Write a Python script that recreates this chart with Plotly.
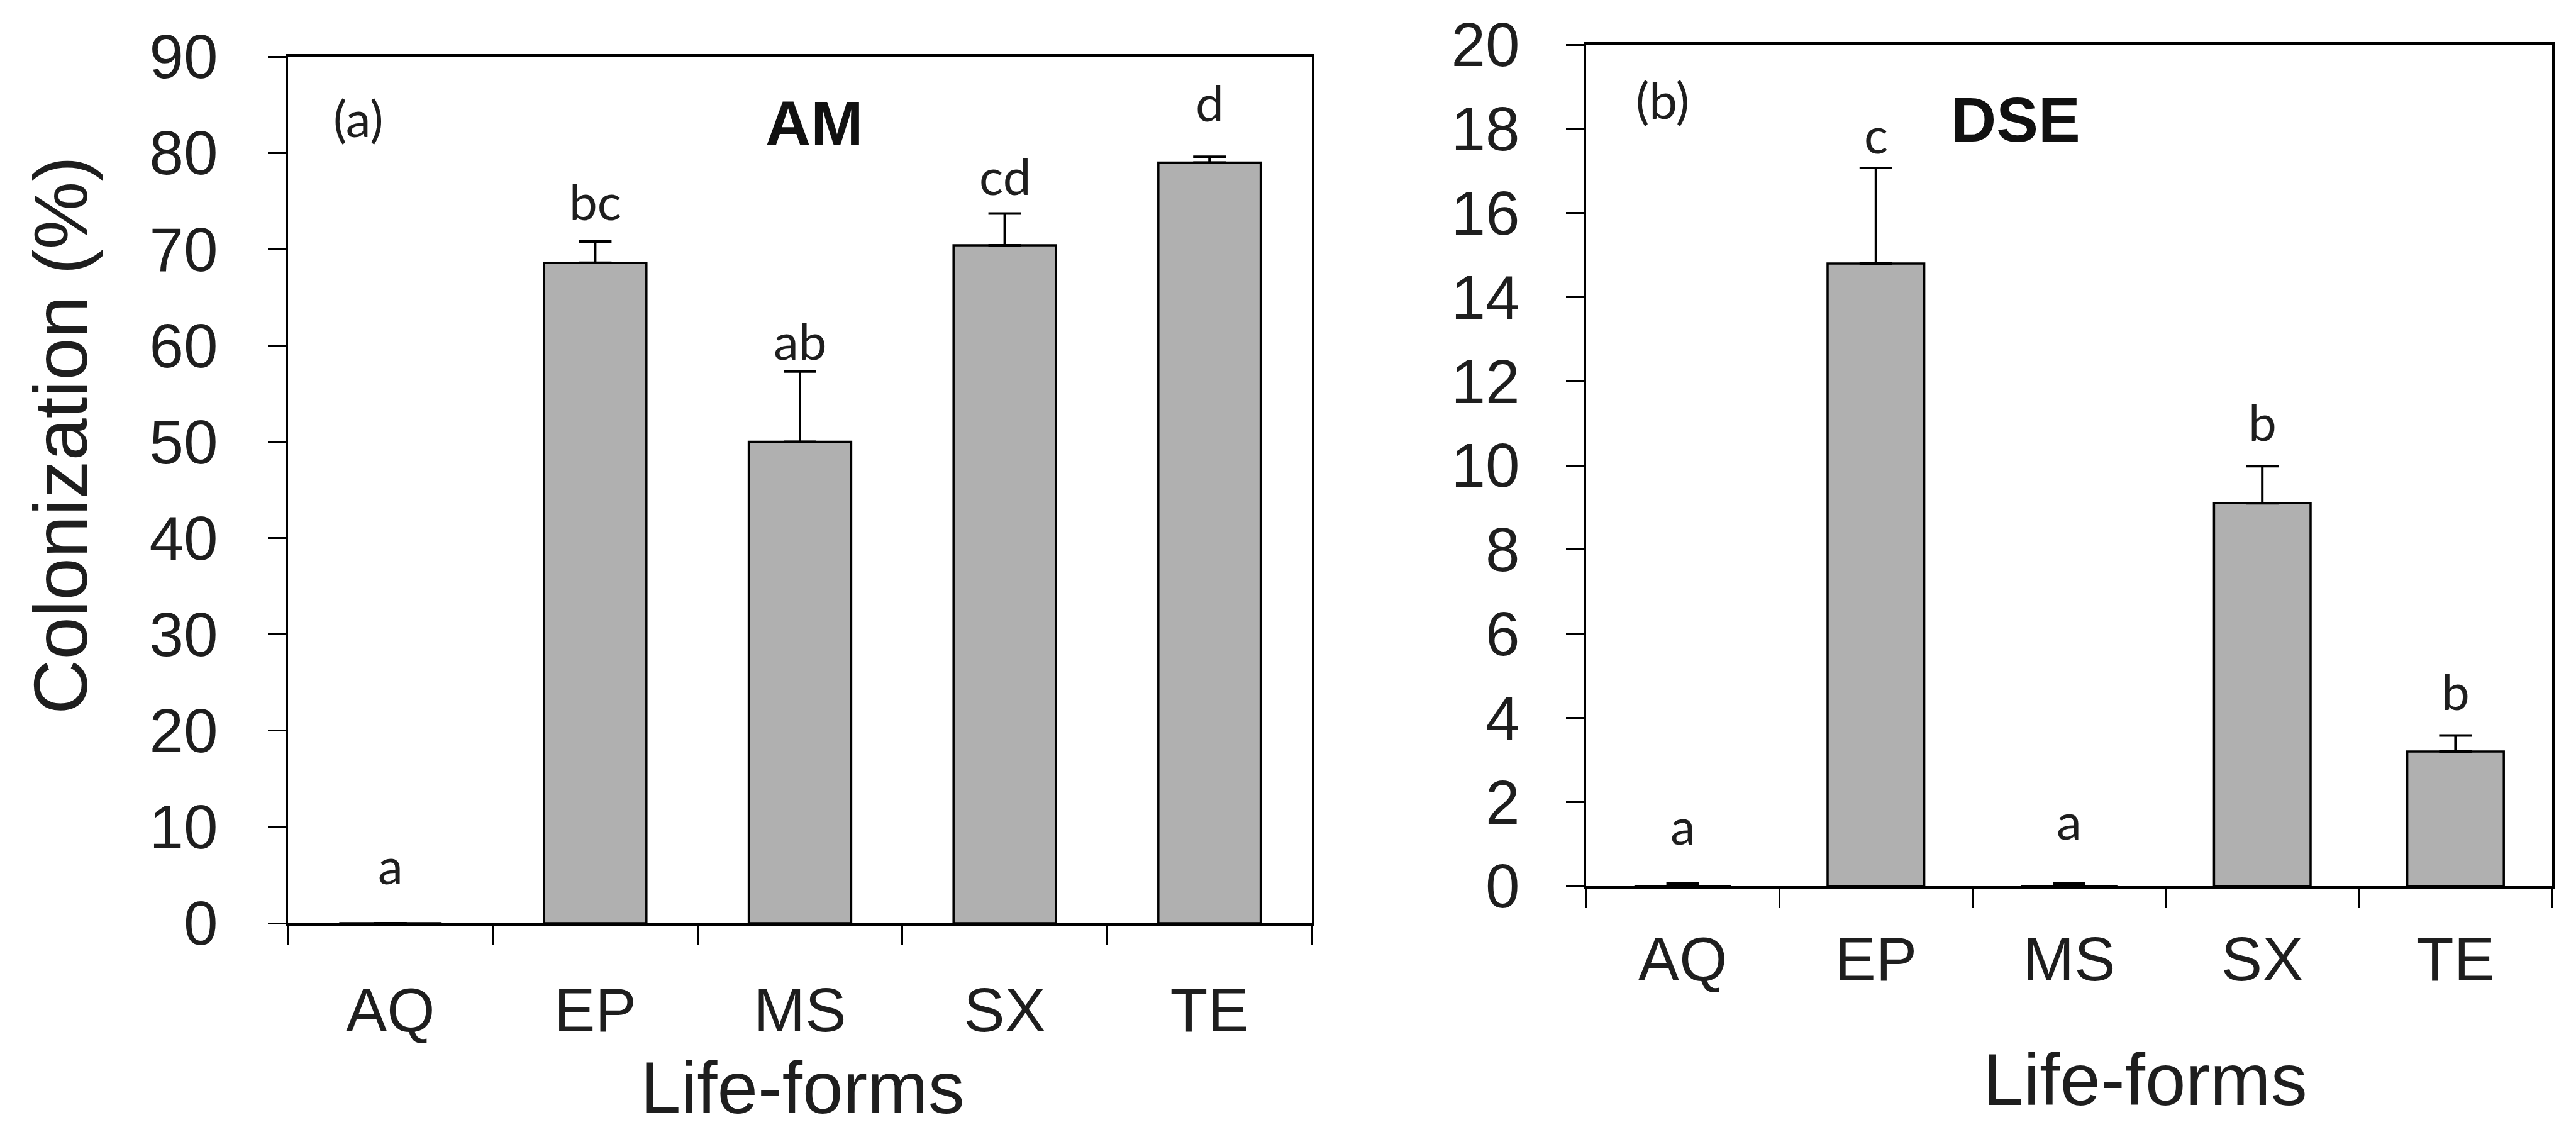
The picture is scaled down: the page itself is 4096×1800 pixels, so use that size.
import plotly.graph_objects as go

# ---------------- data ----------------
categories = ["AQ", "EP", "MS", "SX", "TE"]

am_values = [0.0, 68.6, 50.0, 70.4, 79.0]
am_errors = [0.0, 2.2, 7.3, 3.3, 0.6]
am_letters = ["a", "bc", "ab", "cd", "d"]

dse_values = [0.0, 14.8, 0.0, 9.1, 3.2]
dse_errors = [0.06, 2.27, 0.06, 0.88, 0.38]
dse_letters = ["a", "c", "a", "b", "b"]

am_yticks = list(range(0, 91, 10))
dse_yticks = list(range(0, 21, 2))

# ---------------- style ----------------
W, H = 4096, 1800
TICK_FONT = dict(family="Liberation Sans, Arial, sans-serif", size=98, color="#1e1e1e")
LETTER_FONT = dict(family="Lato, Calibri, sans-serif", size=80, color="#1e1e1e")
BAR_COLOR = "#b0b0b0"

def px(x):
    return x / W

def py(y):
    return 1 - y / H

fig = go.Figure()

fig.add_trace(go.Bar(
    x=categories, y=am_values, xaxis="x", yaxis="y",
    marker=dict(color=BAR_COLOR, line=dict(color="black", width=3.5)),
    error_y=dict(type="data", symmetric=False, array=am_errors,
                 arrayminus=[0] * len(am_errors), color="black",
                 thickness=4, width=26),
    width=0.5, showlegend=False, hoverinfo="skip",
))
fig.add_trace(go.Bar(
    x=categories, y=dse_values, xaxis="x2", yaxis="y2",
    marker=dict(color=BAR_COLOR, line=dict(color="black", width=3.5)),
    error_y=dict(type="data", symmetric=False, array=dse_errors,
                 arrayminus=[0] * len(dse_errors), color="black",
                 thickness=4, width=26),
    width=0.5, showlegend=False, hoverinfo="skip",
))

axis_common = dict(showgrid=False, zeroline=False, showline=True,
                   linecolor="black", linewidth=4, mirror=True,
                   ticks="outside", tickcolor="black", tickwidth=3,
                   tickfont=TICK_FONT, automargin=False)

fig.update_layout(
    width=W, height=H,
    margin=dict(l=0, r=0, t=0, b=0, pad=0),
    paper_bgcolor="white", plot_bgcolor="white",
    xaxis=dict(domain=[px(458), px(2086)], anchor="y", type="category",
               categoryorder="array", categoryarray=categories,
               tickson="boundaries", ticklen=31, ticklabelstandoff=50,
               **axis_common),
    yaxis=dict(domain=[py(1468), py(90)], anchor="x", range=[0, 90],
               tickvals=am_yticks, ticklen=28, ticklabelstandoff=60,
               **axis_common),
    xaxis2=dict(domain=[px(2522), px(4058)], anchor="y2", type="category",
                categoryorder="array", categoryarray=categories,
                tickson="boundaries", ticklen=31, ticklabelstandoff=28,
                **axis_common),
    yaxis2=dict(domain=[py(1409), py(71)], anchor="x2", range=[0, 20],
                tickvals=dse_yticks, ticklen=28, ticklabelstandoff=54,
                **axis_common),
)

annotations = []

# significance letters
am_gaps = [60, 32, 17, 28, 54]
dse_gaps = [60, 21, 68, 38, 39]
for cat, v, e, t, g in zip(categories, am_values, am_errors, am_letters, am_gaps):
    annotations.append(dict(x=cat, y=v + e, xref="x", yref="y", text=t,
                            showarrow=False, yanchor="bottom", yshift=g - 17,
                            font=LETTER_FONT))
for cat, v, e, t, g in zip(categories, dse_values, dse_errors, dse_letters, dse_gaps):
    annotations.append(dict(x=cat, y=v + e, xref="x2", yref="y2", text=t,
                            showarrow=False, yanchor="bottom", yshift=g - 17,
                            font=LETTER_FONT))

# panel labels and titles
annotations += [
    dict(x=px(570), y=py(187), xref="paper", yref="paper", text="(a)",
         showarrow=False, xanchor="center", yanchor="middle", font=LETTER_FONT),
    dict(x=px(2643), y=py(158), xref="paper", yref="paper", text="(b)",
         showarrow=False, xanchor="center", yanchor="middle", font=LETTER_FONT),
    dict(x=px(1295), y=py(196), xref="paper", yref="paper", text="<b>AM</b>",
         showarrow=False, xanchor="center", yanchor="middle",
         font=dict(family="Liberation Sans, Arial, sans-serif", size=100, color="#111")),
    dict(x=px(3205), y=py(190), xref="paper", yref="paper", text="<b>DSE</b>",
         showarrow=False, xanchor="center", yanchor="middle",
         font=dict(family="Liberation Sans, Arial, sans-serif", size=100, color="#111")),
    dict(x=px(96), y=py(692), xref="paper", yref="paper", text="Colonization (%)",
         showarrow=False, xanchor="center", yanchor="middle", textangle=-90,
         font=dict(family="Liberation Sans, Arial, sans-serif", size=121, color="#1e1e1e")),
    dict(x=px(1276), y=py(1797), xref="paper", yref="paper", text="Life-forms",
         showarrow=False, xanchor="center", yanchor="bottom",
         font=dict(family="Liberation Sans, Arial, sans-serif", size=116, color="#1e1e1e")),
    dict(x=px(3411), y=py(1784), xref="paper", yref="paper", text="Life-forms",
         showarrow=False, xanchor="center", yanchor="bottom",
         font=dict(family="Liberation Sans, Arial, sans-serif", size=116, color="#1e1e1e")),
]

fig.update_layout(annotations=annotations)

fig.write_html("out.html")
